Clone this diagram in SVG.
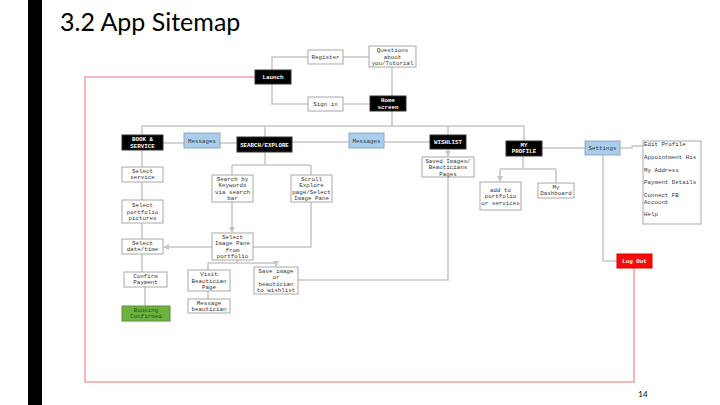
<svg xmlns="http://www.w3.org/2000/svg" width="720" height="405" viewBox="0 0 720 405">
<defs>
<style>
.bx{fill:#fff;stroke:#a8a8a8;stroke-width:1}
.bk{fill:#000;stroke:#333;stroke-width:1}
.bl{fill:#a9cdec;stroke:#8fa8bf;stroke-width:1}
.gr{fill:#6bb23e;stroke:#5a8f3a;stroke-width:1}
.rd{fill:#f50a0a;stroke:#d00;stroke-width:1}
.t{font-family:"Liberation Mono","DejaVu Sans Mono",monospace;font-size:5.8px;fill:#333;text-anchor:middle}
.tw{font-family:"Liberation Mono","DejaVu Sans Mono",monospace;font-size:5.8px;fill:#fff;text-anchor:middle;font-weight:bold}
.tg{font-family:"Liberation Mono","DejaVu Sans Mono",monospace;font-size:5.8px;fill:#2d4f1c;text-anchor:middle}
.tl{font-family:"Liberation Mono","DejaVu Sans Mono",monospace;font-size:5.8px;fill:#333}
.c{fill:none;stroke:#c6c6c6;stroke-width:1.5}
.r{fill:none;stroke:#f2a0a0;stroke-width:1.5}
</style>
<marker id="ar" viewBox="0 0 6 6" refX="5" refY="3" markerWidth="4" markerHeight="4" orient="auto">
<path d="M0 0 L6 3 L0 6 Z" fill="#c6c6c6"/>
</marker>
</defs>
<rect x="0" y="0" width="720" height="405" fill="#fff"/>
<rect x="28" y="0" width="14" height="405" fill="#000"/>
<text x="60" y="31" font-family="Lato,'Open Sans',sans-serif" font-size="25" fill="#000">3.2 App Sitemap</text>
<text x="643" y="397" font-family="Lato,'Open Sans',sans-serif" font-size="8" fill="#000" text-anchor="middle">14</text>

<g id="connectors">
<path class="r" d="M634 268 V382 H85 V77 H255"/>
<path class="c" d="M272 70 V57 H308"/>
<path class="c" d="M272 84 V104 H308"/>
<path class="c" d="M343 57 H369"/>
<path class="c" d="M343 104 H369"/>
<path class="c" d="M392 67 V96"/>
<path class="c" d="M392 111 V126"/>
<path class="c" d="M142 126 H524"/>
<path class="c" d="M142 126 V135 M265 126 V137 M448 126 V135 M524 126 V141"/>
<path class="c" d="M163 143 H184 M220 143 H237"/>
<path class="c" d="M292 142 H349 M384 142 H430"/>
<path class="c" d="M542 148 H585"/>
<path class="c" d="M620 148 H632 V146 H643"/>
<path class="c" d="M603 155 V261 H617"/>
<path class="c" d="M142 150 V167 M142 182 V200 M142 223 V239 M142 254 V272 M145 287 V306"/>
<path class="c" d="M265 152 V165 M232 165 H311 M232 165 V175 M311 165 V175"/>
<path class="c" d="M232 202 V232" marker-end="url(#ar)"/>
<path class="c" d="M311 202 V247 H253"/>
<path class="c" d="M212 247 H164" marker-end="url(#ar)"/>
<path class="c" d="M237 260 V263 M208 263 H276 M208 263 V270"/>
<path class="c" d="M276 263 V266" marker-end="url(#ar)"/>
<path class="c" d="M208 291 V299"/>
<path class="c" d="M448 149 V156" marker-end="url(#ar)"/>
<path class="c" d="M448 177 V280 H298"/>
<path class="c" d="M523 156 V169 M500 169 H556 M556 169 V183"/>
<path class="c" d="M500 169 V181" marker-end="url(#ar)"/>
</g>

<g id="launch"><rect class="bk" x="255" y="70" width="36" height="14"/><text class="tw" x="273" y="79">Launch</text></g>
<g id="register"><rect class="bx" x="308" y="50" width="35" height="14"/><text class="t" x="325.5" y="59">Register</text></g>
<g id="questions"><rect class="bx" x="369" y="46" width="47" height="21"/><text class="t" x="392.5" y="52">Questions</text><text class="t" x="392.5" y="58.5">about</text><text class="t" x="392.5" y="65">you/Tutorial</text></g>
<g id="signin"><rect class="bx" x="308" y="97" width="35" height="14"/><text class="t" x="325.5" y="106">Sign in</text></g>
<g id="home"><rect class="bk" x="370" y="96" width="36" height="15"/><text class="tw" x="388" y="102">Home</text><text class="tw" x="388" y="108.5">screen</text></g>

<g id="book"><rect class="bk" x="122" y="135" width="41" height="15"/><text class="tw" x="142.5" y="141">BOOK &amp;</text><text class="tw" x="142.5" y="147.5">SERVICE</text></g>
<g id="messages1"><rect class="bl" x="184" y="133" width="36" height="15"/><text class="t" x="202" y="142.5">Messages</text></g>
<g id="search"><rect class="bk" x="237" y="137" width="55" height="15"/><text class="tw" x="264.5" y="146.5">SEARCH/EXPLORE</text></g>
<g id="messages2"><rect class="bl" x="349" y="133" width="35" height="15"/><text class="t" x="366.5" y="142.5">Messages</text></g>
<g id="wishlist"><rect class="bk" x="430" y="135" width="36" height="14"/><text class="tw" x="448" y="144">WISHLIST</text></g>
<g id="myprofile"><rect class="bk" x="506" y="141" width="36" height="15"/><text class="tw" x="524" y="146.5">MY</text><text class="tw" x="524" y="153">PROFILE</text></g>
<g id="settings"><rect class="bl" x="585" y="141" width="35" height="14"/><text class="t" x="602.5" y="150">Settings</text></g>
<g id="settingslist"><rect class="bx" x="643" y="141" width="58" height="83"/>
<text class="tl" x="644" y="146">Edit Profile</text>
<text class="tl" x="644" y="159">Appointment His</text>
<text class="tl" x="644" y="172">My Address</text>
<text class="tl" x="644" y="184">Payment Details</text>
<text class="tl" x="644" y="197">Connect FB</text>
<text class="tl" x="644" y="203.5">Account</text>
<text class="tl" x="644" y="216">Help</text></g>
<g id="logout"><rect class="rd" x="617" y="254" width="35" height="14"/><text class="tw" x="634.5" y="263">Log Out</text></g>

<g id="selectservice"><rect class="bx" x="122" y="167" width="41" height="15"/><text class="t" x="142.5" y="172.5">Select</text><text class="t" x="142.5" y="179">service</text></g>
<g id="selectportfolio"><rect class="bx" x="122" y="200" width="41" height="23"/><text class="t" x="142.5" y="207">Select</text><text class="t" x="142.5" y="213.5">portfolio</text><text class="t" x="142.5" y="220">pictures</text></g>
<g id="selectdate"><rect class="bx" x="122" y="239" width="41" height="15"/><text class="t" x="142.5" y="244.5">Select</text><text class="t" x="142.5" y="251">date/time</text></g>
<g id="confirmpayment"><rect class="bx" x="124" y="272" width="43" height="15"/><text class="t" x="145.5" y="277.5">Confirm</text><text class="t" x="145.5" y="284">Payment</text></g>
<g id="booking"><rect class="gr" x="122" y="306" width="48" height="15"/><text class="tg" x="146" y="311.5">Booking</text><text class="tg" x="146" y="318">Confirmed</text></g>

<g id="searchkeywords"><rect class="bx" x="212" y="175" width="41" height="27"/><text class="t" x="232.5" y="180.8">Search by</text><text class="t" x="232.5" y="187.3">Keywords</text><text class="t" x="232.5" y="193.8">via search</text><text class="t" x="232.5" y="200.3">bar</text></g>
<g id="scrollexplore"><rect class="bx" x="291" y="175" width="41" height="27"/><text class="t" x="311.5" y="180.8">Scroll</text><text class="t" x="311.5" y="187.3">Explore</text><text class="t" x="311.5" y="193.8">page/Select</text><text class="t" x="311.5" y="200.3">Image Pane</text></g>
<g id="selectimage"><rect class="bx" x="212" y="233" width="41" height="27"/><text class="t" x="232.5" y="238.8">Select</text><text class="t" x="232.5" y="245.3">Image Pane</text><text class="t" x="232.5" y="251.8">from</text><text class="t" x="232.5" y="258.3">portfolio</text></g>
<g id="visitbeautician"><rect class="bx" x="188" y="270" width="42" height="21"/><text class="t" x="209" y="276">Visit</text><text class="t" x="209" y="282.5">Beautician</text><text class="t" x="209" y="289">Page</text></g>
<g id="messagebeautician"><rect class="bx" x="188" y="299" width="42" height="14"/><text class="t" x="209" y="304.5">Message</text><text class="t" x="209" y="311">beautician</text></g>
<g id="saveimage"><rect class="bx" x="254" y="267" width="44" height="27"/><text class="t" x="276" y="272.8">Save image</text><text class="t" x="276" y="279.3">or</text><text class="t" x="276" y="285.8">beautician</text><text class="t" x="276" y="292.3">to wishlist</text></g>
<g id="savedimages"><rect class="bx" x="422" y="157" width="52" height="20"/><text class="t" x="448" y="162.5">Saved Images/</text><text class="t" x="448" y="169">Beauticians</text><text class="t" x="448" y="175.5">Pages</text></g>
<g id="addportfolio"><rect class="bx" x="480" y="182" width="41" height="28"/><text class="t" x="500.5" y="191.5">add to</text><text class="t" x="500.5" y="198">portfolio</text><text class="t" x="500.5" y="204.5">or services</text></g>
<g id="dashboard"><rect class="bx" x="538" y="183" width="36" height="15"/><text class="t" x="556" y="188.5">My</text><text class="t" x="556" y="195">Dashboard</text></g>
</svg>
